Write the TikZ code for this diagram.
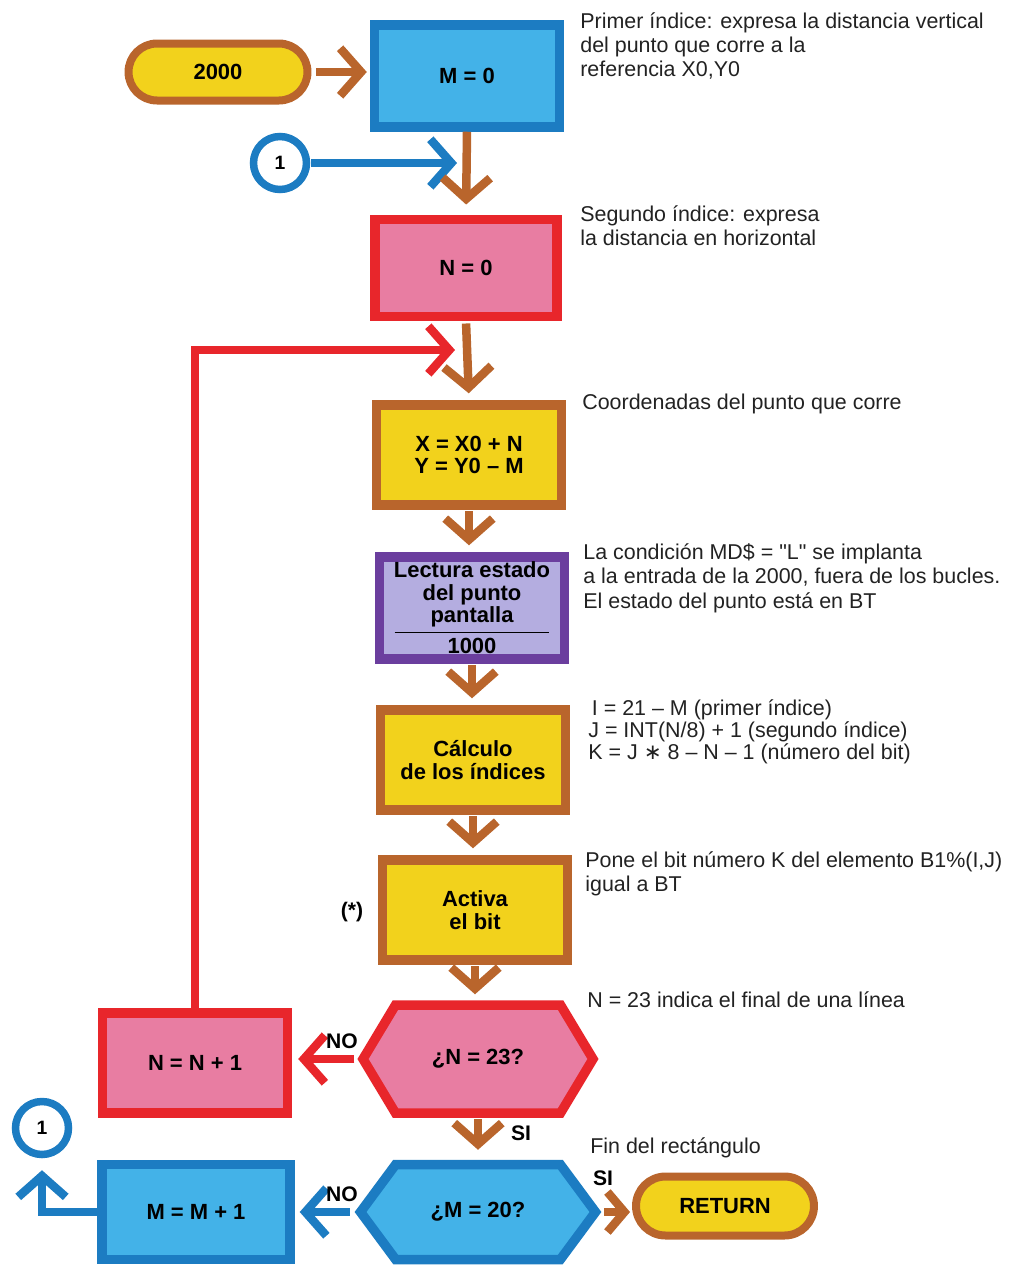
\documentclass[tikz,border=0pt]{standalone}
\usepackage{fontspec}
\setmainfont{Liberation Sans}
\newfontfamily\rawsans{Liberation Sans}
\newfontfamily\dejavu{DejaVu Sans}
\usetikzlibrary{arrows.meta,shapes.misc,shapes.symbols,calc}
\definecolor{brn}{HTML}{B9652C}
\definecolor{ylw}{HTML}{F2D21C}
\definecolor{blu}{HTML}{1C7CC2}
\definecolor{lblu}{HTML}{43B2E8}
\definecolor{rd}{HTML}{E8262B}
\definecolor{pnk}{HTML}{E87DA2}
\definecolor{prp}{HTML}{6B3E9E}
\definecolor{lav}{HTML}{B4ADE0}
\definecolor{txt}{HTML}{222222}
\tikzset{
  boxfont/.style={font=\fontsize{12.5}{13}\selectfont\bfseries},
  pbox/.style n args={2}{rectangle, draw=#1, fill=#2, line width=0.19cm,
    minimum width=3.7cm, minimum height=2.0cm, align=center, inner sep=0pt, boxfont},
  term/.style={rounded rectangle, draw=brn, fill=ylw, line width=0.16cm,
    minimum width=3.58cm, minimum height=1.14cm, inner sep=0pt, boxfont},
  conn/.style={circle, draw=blu, fill=white, line width=0.15cm, minimum size=1.06cm,
    inner sep=0pt, font=\fontsize{11}{11}\selectfont\bfseries},
  hexa/.style n args={2}{signal, signal to=east and west, signal from=nowhere,
    draw=#1, fill=#2, line width=0.19cm, inner sep=0pt, boxfont},
  arr/.style={draw=#1, line width=0.17cm, line join=miter,
    -{Straight Barb[length=0.42cm,width=0.95cm]}},
  note/.style={anchor=north west, align=left, inner sep=0pt, text=txt,
    font=\fontsize{12.2}{13.9}\selectfont},
  lbl/.style={inner sep=0pt, font=\fontsize{12}{12}\selectfont\bfseries}
}
\begin{document}
\begin{tikzpicture}[x=0.02cm,y=-0.02cm]
\useasboundingbox (0,0) rectangle (1013,1269);

% nodes
\node[term] (s2000) at (218,72) {2000};
\node[pbox={blu}{lblu}, minimum height=2.04cm] (m0) at (467,76) {M = 0};
\node[conn] (c1) at (280,163) {1};
\node[pbox={rd}{pnk}, minimum width=3.65cm, minimum height=1.95cm] (n0) at (466,268) {N = 0};
\node[pbox={brn}{ylw}] (xy) at (469,455) {X = X0 + N\\Y = Y0 -- M};
\node[pbox={prp}{lav}, minimum height=2.04cm, font=\fontsize{12.5}{12.8}\selectfont\bfseries] (lect) at (472,608)
  {Lectura estado\\del punto\\pantalla\\[-7pt]\rule{3.1cm}{0.7pt}\\[-0.8pt]1000};
\node[pbox={brn}{ylw}] (calc) at (473,760) {Cálculo\\de los índices};
\node[pbox={brn}{ylw}] (act) at (475,910) {Activa\\el bit};
\node[hexa={rd}{pnk}, minimum width=4.6cm, minimum height=2.16cm, signal pointer angle=118] (hn) at (478,1059) {¿N = 23?};
\node[pbox={rd}{pnk}] (nn1) at (195,1063) {N = N + 1};
\node[hexa={blu}{lblu}, minimum width=4.7cm, minimum height=1.9cm, signal pointer angle=107] (hm) at (478,1212) {¿M = 20?};
\node[pbox={blu}{lblu}, minimum width=3.76cm, minimum height=1.9cm] (mm1) at (196,1212) {M = M + 1};
\node[conn] (c1b) at (42,1128) {1};
\node[term, minimum width=3.56cm, minimum height=1.18cm] (ret) at (725,1206) {RETURN};

% junction coordinates
\coordinate (j1) at (457,163);
\coordinate (j2) at (455,350);

% connectors
\draw[arr=brn, shorten <=0.1cm, shorten >=0.06cm] (s2000.east) -- (s2000.east -| m0.west);
\draw[arr=blu, shorten <=0.02cm] (c1.east) -- (j1);
\draw[arr=brn, shorten >=0.2cm] (m0.south) -- (n0.north);
\draw[arr=brn, shorten <=0.04cm, shorten >=0.14cm] (n0.south) -- (xy.north);
\draw[arr=rd] (nn1.north) -- (nn1.north |- j2) -- (j2);
\draw[arr=brn, shorten <=0.03cm, shorten >=0.14cm] (xy.south) -- (xy.south |- lect.north);
\draw[arr=brn, shorten <=0.03cm, shorten >=0.14cm] (lect.south) -- (lect.south |- calc.north);
\draw[arr=brn, shorten <=0.03cm, shorten >=0.14cm] (calc.south) -- (calc.south |- act.north);
\draw[arr=brn, shorten <=0.03cm, shorten >=0.12cm] (act.south) -- (act.south |- hn.north);
\draw[arr=rd, shorten <=0.06cm, shorten >=0.12cm] (hn.west) -- (hn.west -| nn1.east);
\draw[arr=brn, shorten <=0.03cm, shorten >=0.2cm] (hn.south) -- (hm.north);
\draw[arr=blu, shorten <=0.1cm, shorten >=0.1cm] (hm.west) -- (hm.west -| mm1.east);
\draw[arr=blu, shorten >=0.24cm] (mm1.west) -- (mm1.west -| c1b) -- (c1b.south);
\draw[arr=brn, -{Straight Barb[length=0.34cm,width=0.8cm]}, shorten <=0.06cm, shorten >=0.04cm] (hm.east) -- (hm.east -| ret.west);

% labels
\node[lbl] (no1) at (342,1041) {NO};
\node[lbl] (no2) at (342,1194) {NO};
\node[lbl] (si1) at (521,1133) {SI};
\node[lbl] (si2) at (603,1178) {SI};
\node[lbl] (ast) at (352,912) {(*)};

% notes
\node[note] (t1) at (580,12) {Primer índice: expresa la distancia vertical\\del punto que corre a la\\referencia X0,Y0};
\node[note] (t2) at (580,205) {Segundo índice: expresa\\la distancia en horizontal};
\node[note] (t3) at (582,394) {Coordenadas del punto que corre};
\node[note] (t4) at (583,543) {La condición MD\$ = {\rawsans"}L{\rawsans"} se implanta\\a la entrada de la 2000, fuera de los bucles.\\El estado del punto está en BT};
\node[note, font=\fontsize{12.2}{12.6}\selectfont] (t5) at (588,699) {\,I = 21 -- M (primer índice)\\J = INT(N/8) + 1 (segundo índice)\\K = J {\dejavu ∗} 8 -- N -- 1 (número del bit)};
\node[note] (t6) at (585,851) {Pone el bit número K del elemento B1\%(I,J)\\igual a BT};
\node[note] (t7) at (587,991) {N = 23 indica el final de una línea};
\node[note] (t8) at (590,1137) {Fin del rectángulo};
\end{tikzpicture}
\end{document}
